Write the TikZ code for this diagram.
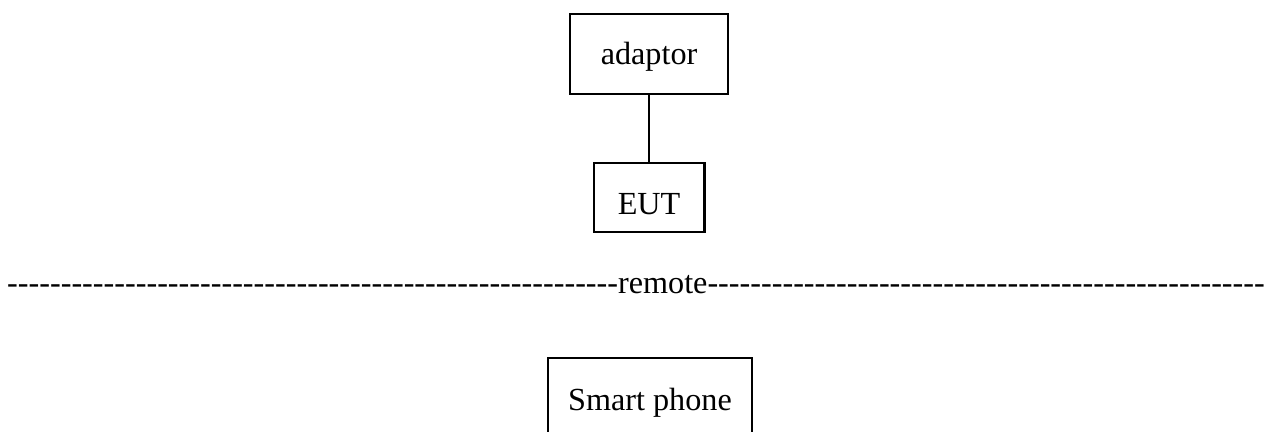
\documentclass[tikz,border=0pt]{standalone}
\usepackage{fontspec}
\setmainfont{Liberation Serif}
\newfontfamily\linefont{Liberation Serif}[Ligatures=TeXOff]

\tikzset{
  unitbox/.style={draw, line width=0.8pt, inner sep=0pt, font=\fontsize{12.07}{14}\selectfont},
  remoteline/.style={inner sep=0pt, anchor=base west, font=\linefont\fontsize{12.07}{14}\selectfont},
}
\newcommand{\hyphenrun}[1]{\foreach \k in {1,...,#1}{-}}

\begin{document}
\begin{tikzpicture}[x=1pt,y=1pt]
      \useasboundingbox (0,0) rectangle (475.125,162);

      % Draw the adaptor and the EUT
      \node[unitbox, minimum width=59.1pt, minimum height=30pt, text height=10.85pt, text depth=2.6pt] (adaptor) at (243.4,141.75) {adaptor};
      \node[unitbox, minimum width=41.6pt, minimum height=25.9pt, text height=12.4pt, text depth=0pt] (eut) at (243.4,87.9) {EUT};

      % Draw the cable between them
      \draw[line width=0.8pt] (adaptor) -- (eut);

      % Draw the remote line
      \node[remoteline] (remote) at (2.5,51.9) {\hyphenrun{57}remote\hyphenrun{52}};

      % Draw the smart phone
      \node[unitbox, minimum width=76.5pt, minimum height=32pt, text height=10.35pt, text depth=2.6pt] (phone) at (243.75,11.75) {Smart phone};
  \end{tikzpicture}
\end{document}
